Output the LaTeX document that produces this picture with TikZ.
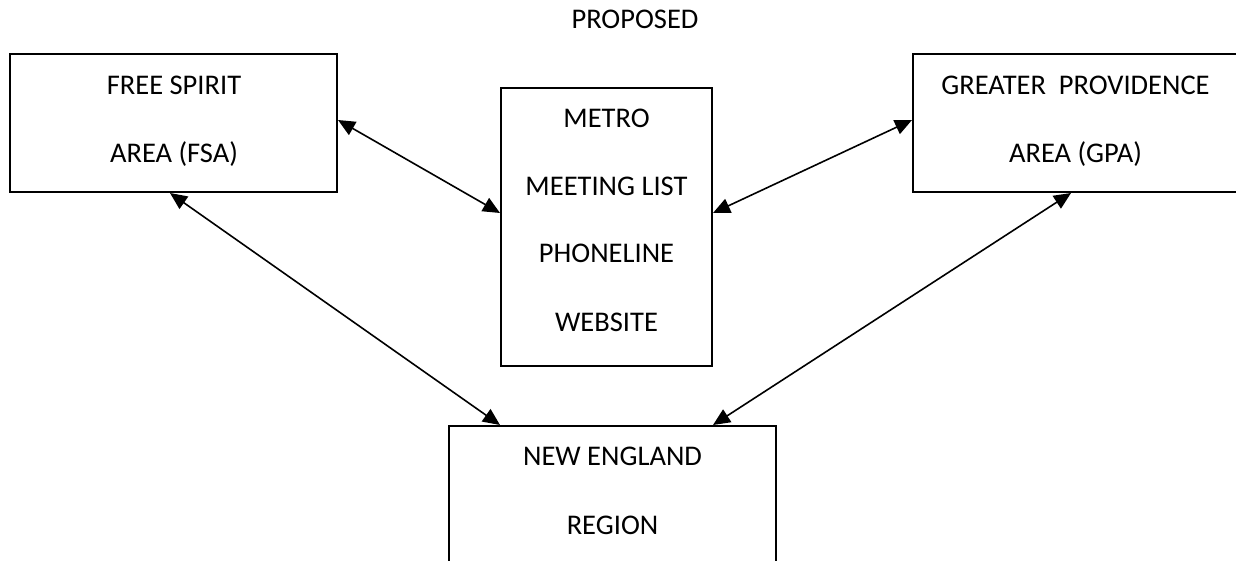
\documentclass[tikz,border=0pt]{standalone}
\usepackage{fontspec}
\setmainfont{Carlito}
\usetikzlibrary{arrows.meta}
\tikzset{
  box/.style={draw, line width=1pt, inner sep=0pt, rectangle},
  lbl/.style={anchor=base, inner sep=0pt, font=\fontsize{14.25}{17}\selectfont},
  link/.style={line width=0.8pt, {Triangle[length=8.5pt,width=7.5pt]}-{Triangle[length=8.5pt,width=7.5pt]}}
}
\begin{document}
\begin{tikzpicture}[x=0.5pt,y=-0.5pt]
\useasboundingbox (0,0) rectangle (1236,561);
\clip (0,0) rectangle (1236,561);
\fill[white] (0,0) rectangle (1236,561);

% title
\node[lbl] (title) at (635,29) {PROPOSED};

% boxes
\node[box, minimum width=163.5pt, minimum height=69pt] (fsa) at (173.5,123) {};
\node[box, minimum width=105.5pt, minimum height=139pt] (metro) at (606.5,227) {};
\node[box, minimum width=162.5pt, minimum height=69pt] (gpa) at (1075.5,123) {};
\node[box, minimum width=163.5pt, minimum height=80pt] (ne) at (612.5,506) {};

% box texts
\node[lbl] (fsa1) at (174,95) {FREE SPIRIT};
\node[lbl] (fsa2) at (174,163) {AREA (FSA)};
\node[lbl] (metro1) at (606.5,128) {METRO};
\node[lbl] (metro2) at (606.5,196) {MEETING LIST};
\node[lbl] (metro3) at (606.5,263) {PHONELINE};
\node[lbl] (metro4) at (606.5,331) {WEBSITE};
\node[lbl] (gpa1) at (1075.5,95) {GREATER\ \ PROVIDENCE};
\node[lbl] (gpa2) at (1075.5,163) {AREA (GPA)};
\node[lbl] (ne1) at (612.5,465) {NEW ENGLAND};
\node[lbl] (ne2) at (612.5,534) {REGION};

% connectors
\draw[link] ([yshift=1.5pt]fsa.east) -- ([yshift=7pt]metro.west);
\draw[link] ([yshift=7pt]metro.east) -- ([yshift=1.5pt]gpa.west);
\draw[link] ([xshift=-1.75pt]fsa.south) -- ([xshift=-56.25pt]ne.north);
\draw[link] ([xshift=-2.25pt]gpa.south) -- ([xshift=50.25pt]ne.north);
\end{tikzpicture}
\end{document}
